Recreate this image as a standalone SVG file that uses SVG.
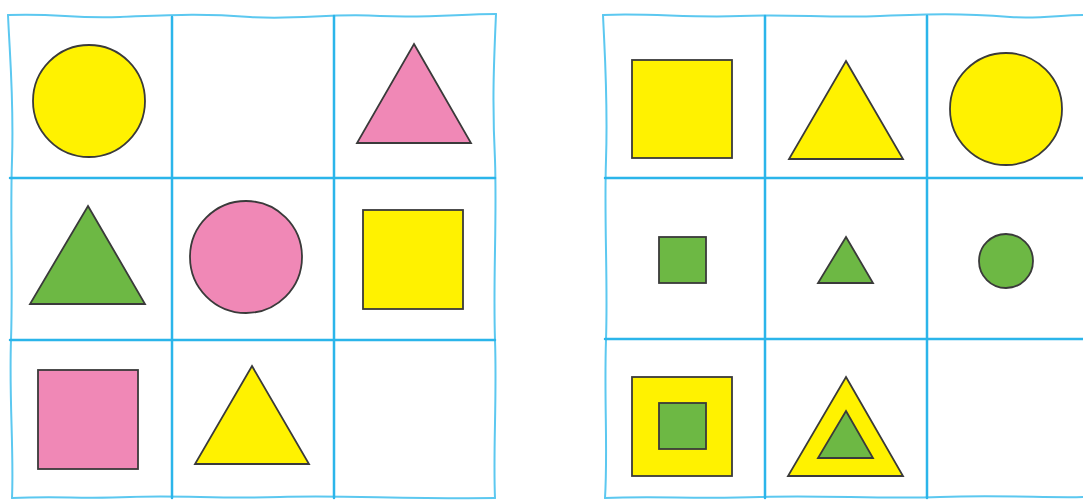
<svg xmlns="http://www.w3.org/2000/svg" width="1083" height="500" viewBox="0 0 1083 500">
<style>
.grid{fill:none;stroke:#2bb5ea;stroke-width:2.5;stroke-linecap:round}
.wave{fill:none;stroke:#5cc8f0;stroke-width:2;stroke-linecap:round}
.s{stroke:#3a3a3a;stroke-width:1.8;stroke-linejoin:miter}
.y{fill:#fff200}.p{fill:#f088b6}.g{fill:#6db844}
</style>
<rect width="1083" height="500" fill="#fff"/>
<g id="grid-left">
<path class="wave" d="M8,15 C60,13 70,19 120,17 C170,15 200,13 250,17 C300,20 330,13 380,16 C430,18 460,14 496,14"/>
<path class="wave" d="M8,15 C10,60 14,100 12,160 C10,220 13,280 11,340 C9,400 14,450 12,498"/>
<path class="wave" d="M496,14 C494,60 492,100 495,160 C497,220 493,280 495,340 C497,400 493,450 495,498"/>
<path class="wave" d="M12,498 C60,496 80,499 130,497 C180,495 220,499 280,497 C340,495 400,499 495,498"/>
<path class="grid" d="M172,17 L172,498 M334,16 L334,498 M10,178 L495,178 M10,340 L495,340"/>
</g>
<g id="grid-right">
<path class="wave" d="M603,15 C650,13 690,18 740,16 C790,14 830,18 880,16 C930,14 960,13 1010,17 C1040,19 1060,15 1083,15"/>
<path class="wave" d="M603,15 C605,60 608,100 606,160 C604,220 608,280 606,340 C604,400 608,450 605,498"/>
<path class="wave" d="M605,498 C650,496 700,499 760,497 C820,495 880,499 940,497 C1000,495 1050,498 1083,497"/>
<path class="grid" d="M765,16 L765,498 M927,16 L927,498 M605,178 L1083,178 M605,339 L1083,339"/>
</g>
<g id="l-r1c1"><circle class="s y" cx="89" cy="101" r="56"/></g>
<g id="l-r1c3"><polygon class="s p" points="414,44 471,143 357,143"/></g>
<g id="l-r2c1"><polygon class="s g" points="88,206 145,304 30,304"/></g>
<g id="l-r2c2"><circle class="s p" cx="246" cy="257" r="56"/></g>
<g id="l-r2c3"><rect class="s y" x="363" y="210" width="100" height="99"/></g>
<g id="l-r3c1"><rect class="s p" x="38" y="370" width="100" height="99"/></g>
<g id="l-r3c2"><polygon class="s y" points="252,366 309,464 195,464"/></g>
<g id="r-r1c1"><rect class="s y" x="632" y="60" width="100" height="98"/></g>
<g id="r-r1c2"><polygon class="s y" points="846,61 903,159 789,159"/></g>
<g id="r-r1c3"><circle class="s y" cx="1006" cy="109" r="56"/></g>
<g id="r-r2c1"><rect class="s g" x="659" y="237" width="47" height="46"/></g>
<g id="r-r2c2"><polygon class="s g" points="846,237 873,283 818,283"/></g>
<g id="r-r2c3"><circle class="s g" cx="1006" cy="261" r="27"/></g>
<g id="r-r3c1"><rect class="s y" x="632" y="377" width="100" height="99"/><rect class="s g" x="659" y="403" width="47" height="46"/></g>
<g id="r-r3c2"><polygon class="s y" points="846,377 903,476 788,476"/><polygon class="s g" points="846,411 873,458 818,458"/></g>
</svg>
